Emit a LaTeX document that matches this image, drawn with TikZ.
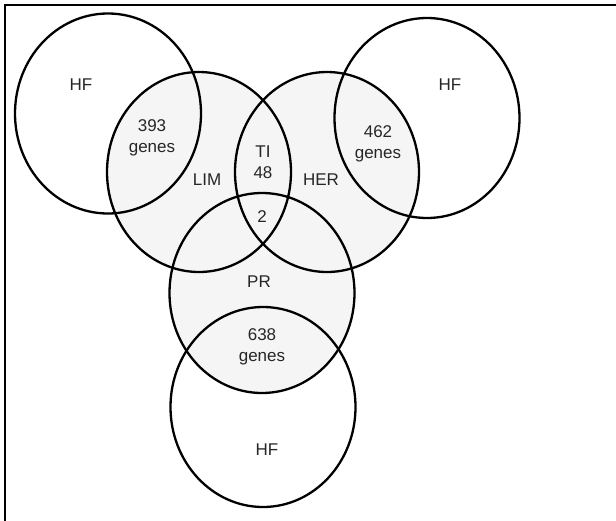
\documentclass[tikz,border=0pt]{standalone}
\usepackage{fontspec}
\setmainfont{Liberation Sans}
\begin{document}
\begin{tikzpicture}[x=1pt,y=-1pt,
  ring/.style={draw=black,line width=2.3pt},
  shade/.style={fill=black!4},
  lbl/.style={font=\fontsize{17}{21}\selectfont,align=center,inner sep=0pt,text=black!85}]
\useasboundingbox (0,0) rectangle (616,520);
\fill[white] (0,0) rectangle (616,520);
\draw[line width=2pt] (5,522) -- (5,5) -- (618,5);
% shaded sets
\fill[shade] (199,172) ellipse [x radius=92, y radius=100];
\fill[shade] (327,172) ellipse [x radius=92, y radius=100];
\fill[shade] (262,293) ellipse [x radius=92, y radius=100];
% outlines
\draw[ring] (108,113.5) ellipse [x radius=93, y radius=100];
\draw[ring] (427,118) ellipse [x radius=92.5, y radius=100];
\draw[ring] (199,172) ellipse [x radius=92, y radius=100];
\draw[ring] (327,172) ellipse [x radius=92, y radius=100];
\draw[ring] (262,293) ellipse [x radius=92.5, y radius=100];
\draw[ring] (263,407) ellipse [x radius=92.5, y radius=100];
% labels
\node[lbl] (hf1) at (81,85) {HF};
\node[lbl] (hf2) at (450,85) {HF};
\node[lbl] (hf3) at (267,450) {HF};
\node[lbl] (g393) at (152,138) {393\\genes};
\node[lbl] (g462) at (378,144) {462\\genes};
\node[lbl] (g638) at (262,347) {638\\genes};
\node[lbl] (lim) at (207,180) {LIM};
\node[lbl] (her) at (321,180) {HER};
\node[lbl] (ti) at (263,162) {TI\\48};
\node[lbl] (two) at (262,217) {2};
\node[lbl] (pr) at (259,282) {PR};
\end{tikzpicture}
\end{document}
